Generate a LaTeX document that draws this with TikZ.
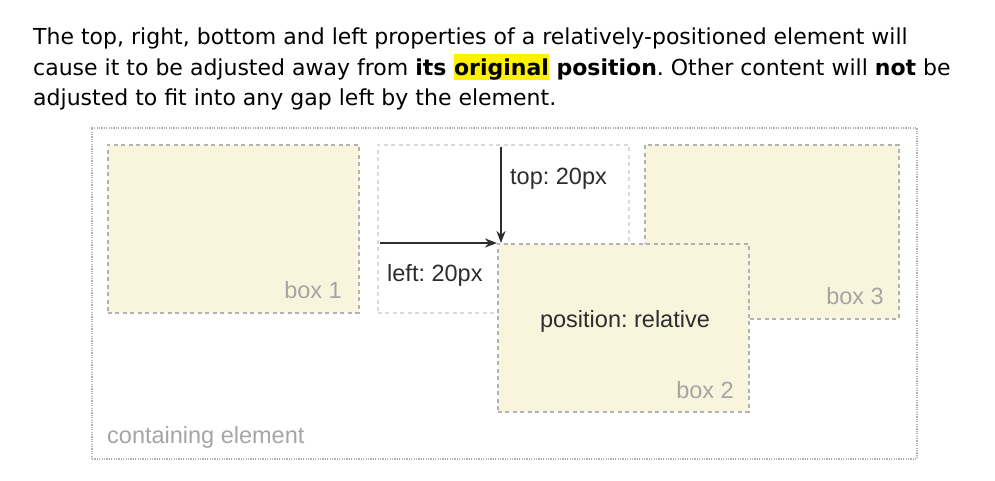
\documentclass[tikz,border=0pt]{standalone}
\usepackage{fontspec}
\setmainfont{DejaVu Sans}
\newfontfamily\labelfont{Liberation Sans}
\usepackage{xcolor}
\definecolor{creamfill}{RGB}{249,245,221}
\definecolor{boxline}{RGB}{178,178,178}
\definecolor{ghostline}{RGB}{218,218,218}
\definecolor{labelgray}{RGB}{165,165,165}
\definecolor{labeldark}{RGB}{45,45,45}
\usepackage{tikz}
\usetikzlibrary{arrows.meta}
\tikzstyle{para} = [anchor=base west, inner sep=0pt,
  font=\fontsize{22}{26}\selectfont]
\tikzstyle{box} = [draw=boxline, fill=creamfill, line width=1.9pt,
  dash pattern=on 4pt off 3.5pt, anchor=north west, inner sep=0pt,
  minimum width=251pt, minimum height=168pt]
\tikzstyle{ghost} = [box, draw=ghostline, fill=white]
\tikzstyle{boxlabel} = [anchor=base east, inner sep=0pt, text=labelgray,
  font=\labelfont\fontsize{23.5}{26}\selectfont]
\tikzstyle{offset} = [anchor=base west, inner sep=0pt, text=labeldark,
  font=\labelfont\fontsize{23.5}{26}\selectfont]
\tikzstyle{movearrow} = [draw=labeldark, line width=2pt,
  -{Stealth[length=12pt,width=9pt]}]

\begin{document}
\frenchspacing
\begin{tikzpicture}[x=1pt, y=-1pt]
  \useasboundingbox (0,0) rectangle (995,481);

  \node[para] (line1) at (33,45)
    {The top, right, bottom and left properties of a relatively-positioned element will};
  \node[para] (line2) at (33,75.5)
    {cause it to be adjusted away from \textbf{its
     {\setlength\fboxsep{0pt}\colorbox{yellow}{\rule[-5pt]{0pt}{26pt}original}}
     position}. Other content will \textbf{not} be};
  \node[para] (line3) at (33,106)
    {adjusted to fit into any gap left by the element.};

  % containing element
  \node[draw=boxline, line width=1.8pt, dash pattern=on 1.2pt off 1.2pt,
    anchor=north west, inner sep=0pt, minimum width=825pt,
    minimum height=331pt] (outer) at (91,127) {};

  \node[box] (box1) at (107,144) {};
  \node[ghost] (orig) at (377,144) {};
  \node[box, minimum width=254pt, minimum height=174pt] (box3) at (644,144) {};
  \node[box] (box2) at (497,243) {};

  \node[boxlabel] (lbl1) at (342,298) {box 1};
  \node[boxlabel] (lbl3) at (884,304) {box 3};
  \node[boxlabel] (lbl2) at (734,398) {box 2};
  \node[anchor=base, inner sep=0pt, text=labeldark,
    font=\labelfont\fontsize{23.5}{26}\selectfont] (rel) at (625,327)
    {position: relative};
  \node[boxlabel, anchor=base west] (cont) at (107,443) {containing element};

  \node[offset] (leftlbl) at (387,281) {left: 20px};
  \node[offset] (toplbl) at (510,185) {top: 20px};

  \coordinate (leftstart) at (380,243);
  \coordinate (topstart) at (501,147);
  \path[movearrow] (leftstart) -- (box2.north west);
  \path[movearrow] (topstart) -- (box2.north west -| topstart);
\end{tikzpicture}
\end{document}
